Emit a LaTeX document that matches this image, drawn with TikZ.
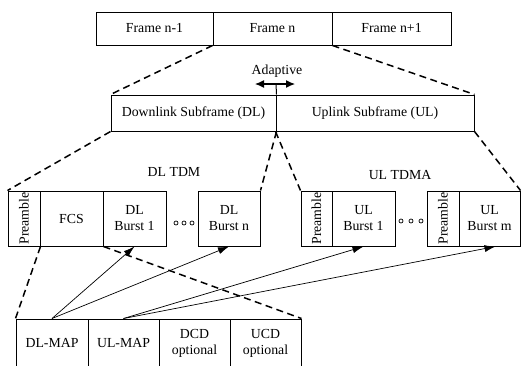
\documentclass[tikz,border=0pt]{standalone}
\usepackage{fontspec}
\setmainfont{Liberation Serif}
\usetikzlibrary{arrows.meta}

\begin{document}
\begin{tikzpicture}[x=1pt,y=-1pt,font=\fontsize{13.8}{16}\selectfont,
	box/.style={draw,line width=1pt,inner sep=0pt,align=center},
	link/.style={line width=1.5pt,dash pattern=on 7pt off 4.5pt},
	ptr/.style={line width=.7pt,-{Latex[length=11pt,width=7pt]}}]
	\useasboundingbox (0,0) rectangle (521,365);
	\node[box,minimum width=117pt,minimum height=33pt](fprev) at (154.5,28.5){Frame n-1};
	\node[box,minimum width=119pt,minimum height=33pt](fcur) at (272.5,28.5){Frame n};
	\node[box,minimum width=119pt,minimum height=33pt](fnext) at (391.5,28.5){Frame n+1};
	\node[box,minimum width=165pt,minimum height=36pt](dlsub) at (193.5,113){Downlink Subframe (DL)};
	\node[box,minimum width=198pt,minimum height=36pt](ulsub) at (375,113){Uplink Subframe (UL)};
	\node(adapt) at (277,71){Adaptive};
	\coordinate(adp) at (276,84);
	\coordinate(adpl) at (255,84);
	\coordinate(adpr) at (295,84);
	\draw[line width=1pt](dlsub.north east) -- (adp);
	\draw[line width=1.2pt,{Latex[length=9pt,width=8pt]}-{Latex[length=9pt,width=8pt]}](adpl) -- (adpr);
	\node(dltdm) at (174,172){DL TDM};
	\node[box,minimum width=32pt,minimum height=55pt](dlpre) at (24,218.5){\rotatebox{90}{Preamble}};
	\node[box,minimum width=63pt,minimum height=55pt](fcs) at (71.5,218.5){FCS};
	\node[box,minimum width=63pt,minimum height=55pt](dlb1) at (134.5,218.5){DL\\Burst 1};
	\node[box,minimum width=62pt,minimum height=55pt](dlbn) at (229,218.5){DL\\Burst n};
	\node(ultdma) at (400,175){UL TDMA};
	\node[box,minimum width=31pt,minimum height=55pt](ulpre1) at (316.5,218.5){\rotatebox{90}{Preamble}};
	\node[box,minimum width=63pt,minimum height=55pt](ulb1) at (363.5,218.5){UL\\Burst 1};
	\node[box,minimum width=32pt,minimum height=55pt](ulpre2) at (443,218.5){\rotatebox{90}{Preamble}};
	\node[box,minimum width=61pt,minimum height=55pt](ulbm) at (489.5,218.5){UL\\Burst m};
	\foreach \x in {176,184,192}
		\draw[line width=.7pt](\x,223) circle(2pt);
	\foreach \x in {401,411,421}
		\draw[line width=.7pt](\x,221) circle(2pt);
	\node[box,minimum width=72pt,minimum height=48pt](dlmap) at (52,343){DL-MAP};
	\node[box,minimum width=71pt,minimum height=48pt](ulmap) at (123.5,343){UL-MAP};
	\node[box,minimum width=71pt,minimum height=48pt](dcd) at (194.5,343){DCD\\optional};
	\node[box,minimum width=71pt,minimum height=48pt](ucd) at (265.5,343){UCD\\optional};
	\draw[link](fcur.south west) -- (dlsub.north west);
	\draw[link](fcur.south east) -- (ulsub.north east);
	\draw[link](dlsub.south west) -- (dlpre.north west);
	\draw[link](dlsub.south east) -- (dlbn.north east);
	\draw[link](ulsub.south west) -- (ulpre1.north west);
	\draw[link](ulsub.south east) -- (ulbm.north east);
	\draw[link](dlpre.south east) -- (dlmap.north west);
	\draw[link](fcs.south east) -- (ucd.north east);
	\draw[ptr](dlmap.north) -- (dlb1.south);
	\draw[ptr](dlmap.north) -- (dlbn.south);
	\draw[ptr](ulmap.north) -- (ulb1.south);
	\draw[ptr](ulmap.north) -- ([xshift=6pt]ulbm.south);
\end{tikzpicture}
\end{document}
